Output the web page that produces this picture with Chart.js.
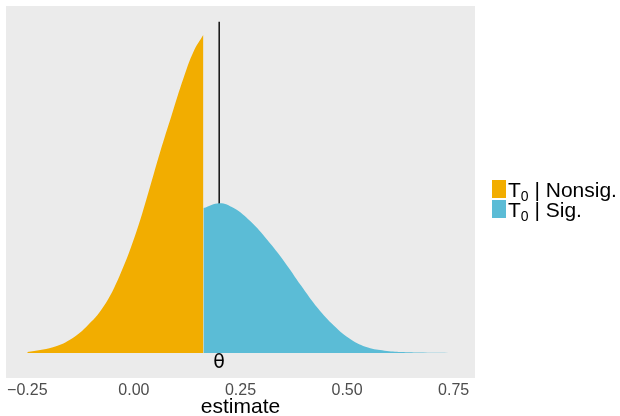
<!DOCTYPE html>
<html>
<head>
<meta charset="utf-8">
<script src="https://cdn.jsdelivr.net/npm/chart.js@4"></script>
<style>
  html, body { margin: 0; padding: 0; background: #ffffff; }
  #wrap { width: 620px; height: 416px; }
</style>
</head>
<body>
<div id="wrap"><canvas id="c" width="620" height="416"></canvas></div>
<script>
// ---- data ----
const nonsigX = [-0.25, -0.19, -0.151, -0.112, -0.072, -0.033, 0.006, 0.038, 0.061, 0.089, 0.116, 0.140, 0.163];
const nonsigY = [0.02, 0.13, 0.29, 0.58, 1.02, 1.73, 2.70, 3.70, 4.45, 5.30, 6.10, 6.70, 7.07];
const sigX = [0.163, 0.201, 0.234, 0.274, 0.313, 0.352, 0.392, 0.431, 0.470, 0.509, 0.549, 0.588, 0.627, 0.667, 0.75];
const sigY = [3.22, 3.33, 3.22, 2.92, 2.51, 2.04, 1.50, 1.00, 0.60, 0.30, 0.12, 0.05, 0.02, 0.01, 0.0];
const thetaX = 0.2;
const thetaLineTop = 7.36;
const tickValues = [-0.25, 0, 0.25, 0.5, 0.75];
const tickLabels = ["\u22120.25", "0.00", "0.25", "0.50", "0.75"];
const legendNames = ["Nonsig.", "Sig."];
const legendColors = ["#F2AD00", "#5BBCD6"];

const toPts = (xs, ys) => xs.map((x, i) => ({ x: x, y: ys[i] }));

const panelBg = {
  id: 'panelBg',
  beforeDraw(chart) {
    const { ctx, chartArea: a } = chart;
    ctx.save();
    ctx.fillStyle = '#EBEBEB';
    ctx.fillRect(a.left, a.top, a.right - a.left, a.bottom - a.top);
    ctx.restore();
  }
};

const extras = {
  id: 'extras',
  afterDraw(chart) {
    const { ctx } = chart;
    const xs = chart.scales.x, ys = chart.scales.y;
    // theta label
    ctx.save();
    ctx.fillStyle = '#000';
    ctx.font = '19px "DejaVu Sans", "Liberation Sans", sans-serif';
    ctx.textAlign = 'center';
    ctx.textBaseline = 'middle';
    ctx.fillText('\u03B8', xs.getPixelForValue(thetaX), ys.getPixelForValue(0) + 10);
    ctx.restore();
    // legend
    const keyX = 492, keyW = 14, keyH = 18, pitch = 20, top0 = 180;
    legendNames.forEach((name, i) => {
      const y0 = top0 + i * pitch;
      ctx.save();
      ctx.fillStyle = legendColors[i];
      ctx.fillRect(keyX, y0, keyW, keyH);
      ctx.fillStyle = '#000';
      ctx.textBaseline = 'alphabetic';
      ctx.textAlign = 'left';
      const base = y0 + 17;
      let tx = keyX + keyW + 2;
      ctx.font = '21px "Liberation Sans", Arial, sans-serif';
      ctx.fillText('T', tx, base);
      tx += ctx.measureText('T').width;
      ctx.font = '14px "Liberation Sans", Arial, sans-serif';
      ctx.fillText('0', tx, base + 4);
      tx += ctx.measureText('0').width;
      ctx.font = '21px "Liberation Sans", Arial, sans-serif';
      ctx.fillText(' | ' + name, tx, base);
      ctx.restore();
    });
  }
};

new Chart(document.getElementById('c'), {
  type: 'line',
  data: {
    datasets: [
      {
        label: 'T0 | Nonsig.',
        data: toPts(nonsigX, nonsigY),
        backgroundColor: legendColors[0],
        borderWidth: 0,
        borderColor: 'rgba(0,0,0,0)',
        pointRadius: 0,
        fill: 'origin',
        tension: 0.4
      },
      {
        label: 'T0 | Sig.',
        data: toPts(sigX, sigY),
        backgroundColor: legendColors[1],
        borderWidth: 0,
        borderColor: 'rgba(0,0,0,0)',
        pointRadius: 0,
        fill: 'origin',
        tension: 0.4
      },
      {
        label: 'theta',
        data: [{ x: thetaX, y: 0 }, { x: thetaX, y: thetaLineTop }],
        borderColor: '#000000',
        borderWidth: 1.4,
        pointRadius: 0,
        fill: false
      }
    ]
  },
  options: {
    responsive: false,
    animation: false,
    devicePixelRatio: 1,
    layout: { padding: { left: 6, top: 6, right: 145, bottom: 0 } },
    plugins: { legend: { display: false }, tooltip: { enabled: false } },
    scales: {
      x: {
        type: 'linear',
        min: -0.3,
        max: 0.8,
        grid: { display: false, drawTicks: false },
        border: { display: false },
        afterBuildTicks(scale) {
          scale.ticks = tickValues.map(v => ({ value: v }));
        },
        afterFit(scale) {
          scale.height = 38;
          scale.paddingLeft = 0;
          scale.paddingRight = 0;
        },
        ticks: {
          autoSkip: false,
          maxRotation: 0,
          padding: 3,
          color: '#4D4D4D',
          font: { family: '"Liberation Sans", Arial, sans-serif', size: 16 },
          callback(value) {
            const i = tickValues.findIndex(t => Math.abs(t - value) < 1e-9);
            return i >= 0 ? tickLabels[i] : '';
          }
        },
        title: {
          display: true,
          text: 'estimate',
          color: '#000000',
          padding: 0,
          font: { family: '"Liberation Sans", Arial, sans-serif', size: 21, lineHeight: 0.8 }
        }
      },
      y: {
        display: false,
        min: -0.556,
        max: 7.711
      }
    }
  },
  plugins: [panelBg, extras]
});
</script>
</body>
</html>
